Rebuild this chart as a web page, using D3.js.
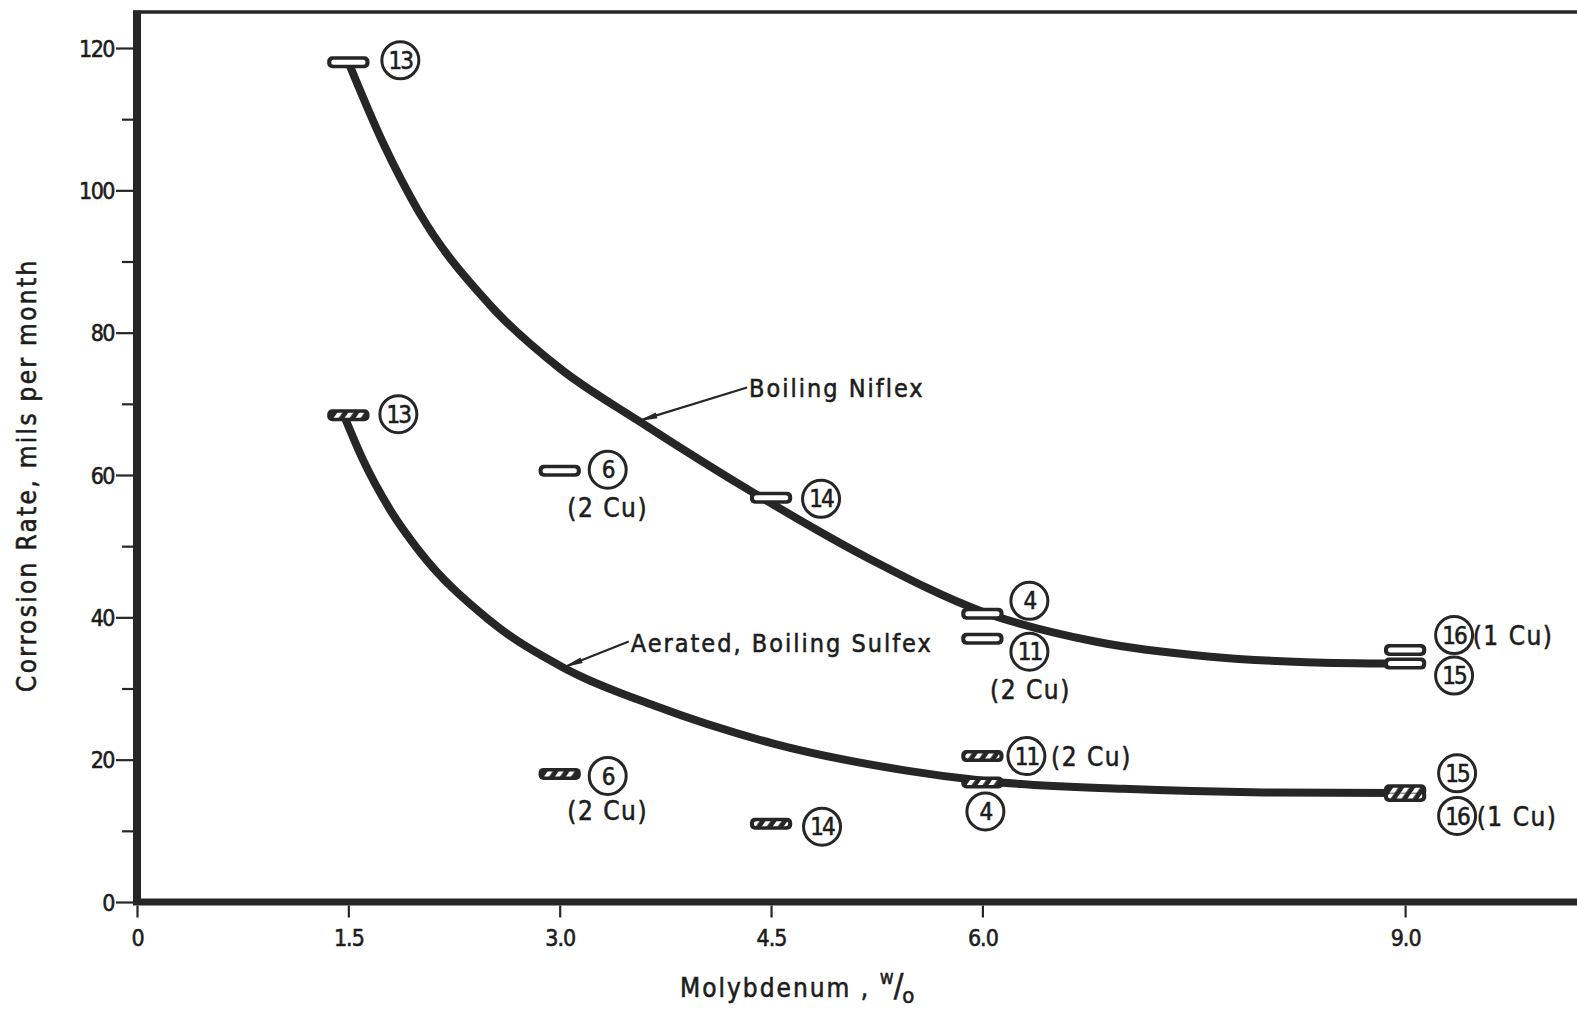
<!DOCTYPE html>
<html>
<head>
<meta charset="utf-8">
<script src="https://cdn.jsdelivr.net/npm/d3@7"></script>
<style>
  html, body { margin: 0; padding: 0; background: #fff; }
  svg { display: block; }
  text { font-family: "Liberation Sans Narrow", "DejaVu Sans Condensed", "Roboto Condensed", sans-serif; fill: #1c1c1c; stroke: #1c1c1c; stroke-width: 0.55px; }
</style>
</head>
<body>
<svg id="chart" width="1577" height="1013"></svg>
<script>
// Corrosion rate of Mo-bearing alloys vs. molybdenum content, two test media.

// Boiling Niflex specimens (open bars)
const niflexMo    = [1.5, 3.0, 4.5, 6.0, 6.0, 9.0, 9.0];
const niflexRate  = [118.0, 60.6, 56.8, 40.5, 37.0, 35.4, 33.5];
const niflexHeat  = ["13", "6", "14", "4", "11", "16", "15"];
const niflexCu    = ["", "(2 Cu)", "", "", "(2 Cu)", "(1 Cu)", ""];

// Aerated, boiling Sulfex specimens (hatched bars)
const sulfexMo    = [1.5, 3.0, 4.5, 6.0, 6.0, 9.0, 9.0];
const sulfexRate  = [68.4, 18.0, 11.0, 20.5, 16.8, 15.7, 14.9];
const sulfexHeat  = ["13", "6", "14", "11", "4", "15", "16"];
const sulfexCu    = ["", "(2 Cu)", "", "(2 Cu)", "", "", "(1 Cu)"];

// Faired curves through each set
const niflexCurveMo   = [1.5, 1.75, 2.0, 2.5, 3.0, 3.56, 4.4, 5.2, 6.0, 6.8, 7.6, 8.3, 8.95];
const niflexCurveRate = [118.0, 106.5, 97.0, 84.0, 75.0, 67.6, 57.2, 48.2, 40.8, 36.6, 34.5, 33.7, 33.5];
const sulfexCurveMo   = [1.47, 1.6, 1.8, 2.0, 2.5, 3.02, 3.67, 4.51, 5.45, 6.02, 7.0, 8.0, 8.95];
const sulfexCurveRate = [68.3, 62.3, 55.0, 49.4, 39.6, 33.0, 27.6, 22.3, 18.5, 17.0, 15.9, 15.4, 15.3];

// Axis ticks
const xTickValues = [0, 1.5, 3.0, 4.5, 6.0, 9.0];
const yTickValues = [0, 10, 20, 30, 40, 50, 60, 70, 80, 90, 100, 110, 120];
const yLabelValues = [0, 20, 40, 60, 80, 100, 120];

// Curve captions: [text, text anchor (Mo, rate), arrow tip (Mo, rate)]
const captionText = ["Boiling  Niflex", "Aerated, Boiling  Sulfex"];
const captionAt   = [[4.33, 72.3], [3.49, 36.6]];
const captionTip  = [[3.56, 67.6], [3.03, 33.0]];

// ---- layout (pixel offsets of the heat-number circle / Cu note from each bar) ----
const niflexLabelPos = [
  {dx: 52, dy: -2},
  {dx: 48, dy: -1, cdx: 48, cdy: 37},
  {dx: 50, dy: 1},
  {dx: 47, dy: -13},
  {dx: 47, dy: 13, cdx: 48, cdy: 51},
  {dx: 49, dy: -15, cdx: 108, cdy: -14},
  {dx: 49, dy: 12}
];
const sulfexLabelPos = [
  {dx: 50, dy: -1},
  {dx: 48, dy: 2, cdx: 48, cdy: 37},
  {dx: 51, dy: 3},
  {dx: 44, dy: 0, cdx: 109, cdy: 1},
  {dx: 3, dy: 29},
  {dx: 52, dy: -17},
  {dx: 52, dy: 20, cdx: 112, cdy: 21}
];

const ink = "#262626";
const svg = d3.select("#chart");

const x = d3.scaleLinear().domain([0, 10]).range([137, 137 + 1409]);
const y = d3.scaleLinear().domain([0, 120]).range([902, 48]);

const defs = svg.append("defs");
const hatch = defs.append("pattern")
  .attr("id", "hatch").attr("patternUnits", "userSpaceOnUse")
  .attr("width", 9).attr("height", 9)
  .attr("patternTransform", "rotate(35)");
hatch.append("rect").attr("width", 9).attr("height", 9).attr("fill", ink);
hatch.append("rect").attr("x", 0).attr("width", 4.2).attr("height", 9).attr("fill", "#fff");

const arrow = defs.append("marker")
  .attr("id", "arrowHead").attr("viewBox", "0 0 20 10")
  .attr("refX", 19).attr("refY", 5)
  .attr("markerWidth", 20).attr("markerHeight", 10)
  .attr("markerUnits", "userSpaceOnUse")
  .attr("orient", "auto");
arrow.append("path").attr("d", "M0,2 L20,5 L0,8 Z").attr("fill", ink);

// ---- frame ----
const frameTop = y(125.05), frameRight = 1600;
svg.append("line").attr("x1", x(0) - 4).attr("x2", frameRight).attr("y1", frameTop).attr("y2", frameTop)
  .attr("stroke", ink).attr("stroke-width", 3.5);
svg.append("line").attr("x1", x(0)).attr("x2", x(0)).attr("y1", frameTop - 1.5).attr("y2", y(0) + 3)
  .attr("stroke", ink).attr("stroke-width", 8);
svg.append("line").attr("x1", x(0) - 4).attr("x2", frameRight).attr("y1", y(0)).attr("y2", y(0))
  .attr("stroke", ink).attr("stroke-width", 7);

// ---- axes ----
const yAxis = d3.axisLeft(y).tickValues(yTickValues).tickSize(0).tickFormat("");
const gy = svg.append("g").attr("transform", `translate(${x(0) - 4},0)`).call(yAxis);
gy.select(".domain").remove();
gy.selectAll(".tick line")
  .attr("x2", d => (d % 20 === 0 ? -17 : -11))
  .attr("stroke", ink).attr("stroke-width", 2.2);
gy.selectAll(".tick").filter(d => yLabelValues.includes(d))
  .append("text")
  .attr("x", -19).attr("dy", "0.35em")
  .attr("text-anchor", "end")
  .style("font-size", "23px").style("letter-spacing", "-1.5px")
  .text(d => d);

const xAxis = d3.axisBottom(x).tickValues(xTickValues).tickSize(0).tickFormat("");
const gx = svg.append("g").attr("transform", `translate(0,${y(0) + 3.5})`).call(xAxis);
gx.select(".domain").remove();
gx.selectAll(".tick line").attr("y2", 12).attr("stroke", ink).attr("stroke-width", 2.2);
gx.selectAll(".tick").append("text")
  .attr("y", 32).attr("dy", "0.35em").attr("text-anchor", "middle")
  .style("font-size", "23px").style("letter-spacing", "-1px")
  .text(d => (d === 0 ? "0" : d3.format(".1f")(d)));

// axis titles
const xt = svg.append("text")
  .attr("x", 680).attr("y", 997)
  .style("font-size", "26px").style("letter-spacing", "2px");
xt.append("tspan").text("Molybdenum ,  ");
xt.append("tspan").attr("dy", -13).style("font-size", "19px").text("w");
xt.append("tspan").attr("dy", 12).attr("dx", -2).style("font-size", "32px").text("/");
xt.append("tspan").attr("dy", 7).attr("dx", -3).style("font-size", "22px").text("o");

svg.append("text")
  .attr("transform", `translate(36,${(y(0) + y(125)) / 2 + 18}) rotate(-90)`)
  .attr("text-anchor", "middle")
  .style("font-size", "26px").style("letter-spacing", "2.3px")
  .text("Corrosion  Rate,  mils  per  month");

// ---- faired curves ----
const line = d3.line().x(d => x(d[0])).y(d => y(d[1])).curve(d3.curveMonotoneX);
const curveSets = [
  d3.zip(niflexCurveMo, niflexCurveRate),
  d3.zip(sulfexCurveMo, sulfexCurveRate)
];
svg.append("g").selectAll("path").data(curveSets).join("path")
  .attr("d", line)
  .attr("fill", "none").attr("stroke", ink)
  .attr("stroke-width", 8).attr("stroke-linecap", "round");

// ---- specimen bars ----
const barW = x(0.3) - x(0), barH = 12;

function drawBars(mo, rate, hatched) {
  const g = svg.append("g");
  const data = d3.zip(mo, rate);
  g.selectAll("rect.outer").data(data).join("rect")
    .attr("class", "outer")
    .attr("x", d => x(d[0]) - barW / 2).attr("y", d => y(d[1]) - barH / 2)
    .attr("width", barW).attr("height", barH)
    .attr("rx", 5)
    .attr("fill", ink);
  g.selectAll("rect.inner").data(data).join("rect")
    .attr("class", "inner")
    .attr("x", d => x(d[0]) - barW / 2 + 4).attr("y", d => y(d[1]) - barH / 2 + 3.5)
    .attr("width", barW - 8).attr("height", barH - 7)
    .attr("rx", 2.5)
    .attr("fill", hatched ? "url(#hatch)" : "#fff");
}
drawBars(niflexMo, niflexRate, false);
drawBars(sulfexMo, sulfexRate, true);

// ---- heat-number circles and copper notes ----
function drawLabels(mo, rate, heat, cu, pos) {
  const g = svg.append("g");
  const items = mo.map((m, i) => ({ cx: x(m) + pos[i].dx, cy: y(rate[i]) + pos[i].dy, p: pos[i], heat: heat[i], cu: cu[i], bx: x(m), by: y(rate[i]) }));
  g.selectAll("circle").data(items).join("circle")
    .attr("cx", d => d.cx).attr("cy", d => d.cy).attr("r", 18.5)
    .attr("fill", "#fff").attr("stroke", ink).attr("stroke-width", 3);
  g.selectAll("text.heat").data(items).join("text")
    .attr("class", "heat")
    .attr("x", d => d.cx).attr("y", d => d.cy).attr("dy", "0.36em")
    .attr("text-anchor", "middle")
    .style("font-size", "24px").style("letter-spacing", "-2px")
    .text(d => d.heat);
  g.selectAll("text.cu").data(items.filter(d => d.cu)).join("text")
    .attr("class", "cu")
    .attr("x", d => d.bx + d.p.cdx).attr("y", d => d.by + d.p.cdy).attr("dy", "0.36em")
    .attr("text-anchor", "middle")
    .style("font-size", "26px").style("letter-spacing", "1.5px")
    .text(d => d.cu);
}
drawLabels(niflexMo, niflexRate, niflexHeat, niflexCu, niflexLabelPos);
drawLabels(sulfexMo, sulfexRate, sulfexHeat, sulfexCu, sulfexLabelPos);

// ---- curve captions with leader arrows ----
const cap = svg.append("g");
captionText.forEach((t, i) => {
  const [ax, ay] = captionAt[i];
  const [tx, ty] = captionTip[i];
  cap.append("line")
    .attr("x1", x(ax)).attr("y1", y(ay))
    .attr("x2", x(tx)).attr("y2", y(ty))
    .attr("stroke", ink).attr("stroke-width", 2.2)
    .attr("marker-end", "url(#arrowHead)");
  cap.append("text")
    .attr("x", x(ax) + 2).attr("y", y(ay) + 1).attr("dy", "0.36em")
    .style("font-size", "25px").style("letter-spacing", "2px")
    .text(t);
});
</script>
</body>
</html>
